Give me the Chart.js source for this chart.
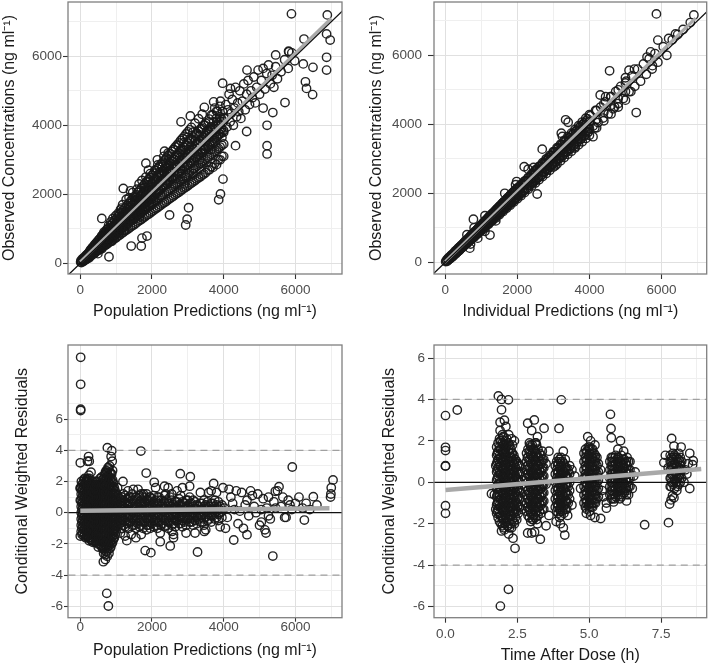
<!DOCTYPE html>
<html>
<head>
<meta charset="utf-8">
<script src="https://cdn.jsdelivr.net/npm/chart.js@4/dist/chart.umd.min.js"></script>
<style>
  body { margin: 0; background: #fff; width: 709px; height: 666px; position: relative; overflow: hidden; }
  canvas { position: absolute; }
</style>
</head>
<body>
<canvas id="popPlot" width="355" height="320" style="left:0;top:0"></canvas>
<canvas id="indPlot" width="354" height="320" style="left:355px;top:0"></canvas>
<canvas id="cwresPredPlot" width="355" height="346" style="left:0;top:320px"></canvas>
<canvas id="cwresTimePlot" width="354" height="346" style="left:355px;top:320px"></canvas>
<script>
// tick labels
const concTicks = [0, 2000, 4000, 6000];
const cwresTicks = [-6, -4, -2, 0, 2, 4, 6];
const timeTicks = [0, 2.5, 5, 7.5];

// population predictions vs observed (ng/ml): scattered points
const popScatter = [
  [10,40],[20,80],[30,20],[50,60],[60,130],[80,50],[100,160],[120,90],[150,200],[170,120],[200,260],[220,170],[240,310],[240,150],
  [260,220],[280,380],[300,300],[320,250],[340,450],[360,330],[380,280],[400,520],[420,400],[440,350],[460,600],[480,430],[500,380],[490,280],
  [520,560],[540,700],[560,480],[580,620],[600,800],[620,540],[640,680],[660,900],[680,600],[700,760],[720,560],[740,980],[750,700],[600,420],
  [770,850],[790,1100],[810,720],[830,920],[850,1200],[870,800],[890,1000],[910,1300],[930,760],[950,1080],[970,900],[990,1380],[1000,1150],[880,640],
  [1020,980],[1040,1250],[1060,1450],[1080,880],[1100,1180],[1120,1550],[1140,1020],[1160,1330],[1180,1700],[1200,1100],[1220,1400],[1240,1250],[1230,960],[1150,1600],
  [1260,1500],[1280,1850],[1300,1150],[1320,1380],[1340,1620],[1360,1900],[1380,1250],[1400,1480],[1420,1750],[1440,1350],[1460,2050],[1480,1600],[1500,1300],[1400,2100],
  [1520,1700],[1540,1900],[1560,1450],[1580,2150],[1600,1600],[1620,1800],[1640,2300],[1660,1500],[1680,1950],[1700,1750],[1720,2400],[1740,1600],[1750,2050],[1650,1350],
  [1770,1850],[1790,2200],[1810,1650],[1830,2500],[1850,2000],[1870,1800],[1890,2350],[1910,2150],[1930,1750],[1950,2600],[1970,2050],[1990,1850],[2000,2300],[1900,2700],
  [2020,2150],[2040,2450],[2060,1900],[2080,2700],[2100,2250],[2120,2050],[2140,2550],[2160,2850],[2180,2300],[2200,2100],[2220,2650],[2240,2400],[2250,1950],[2150,3000],
  [2270,2550],[2290,2800],[2310,2250],[2330,3100],[2350,2600],[2370,2400],[2390,2900],[2410,2650],[2430,2300],[2450,3200],[2470,2750],[2490,2500],[2480,3000],[2350,3250],
  [2520,2700],[2540,3050],[2560,2500],[2580,2850],[2600,3300],[2620,2650],[2640,3000],[2660,2450],[2680,2800],[2700,3150],[2720,2600],[2740,3400],[2750,2900],[2600,2300],
  [2770,3050],[2790,2750],[2810,3300],[2830,2600],[2850,3150],[2870,2900],[2890,3500],[2910,2800],[2930,3200],[2950,2500],[2970,3050],[2990,3650],[3000,2850],[2900,2300],
  [3020,3300],[3040,3050],[3060,3600],[3080,2900],[3100,3400],[3120,3150],[3140,3800],[3160,2750],[3180,3300],[3200,3550],[3220,3050],[3240,3750],[3250,3250],[3150,2600],
  [3270,3450],[3290,3150],[3310,3700],[3330,3000],[3350,3550],[3370,3300],[3390,3900],[3410,3200],[3430,3650],[3450,3400],[3470,4000],[3490,3300],[3500,3700],[3400,2900],
  [3520,3550],[3540,3850],[3560,3400],[3580,4100],[3600,3650],[3620,3450],[3640,3950],[3660,4300],[3680,3700],[3700,3500],[3720,4100],[3740,3800],[3750,4500],[3650,3300],
  [3770,3900],[3790,4200],[3810,3650],[3830,4400],[3850,4000],[3870,3750],[3890,4250],[3910,4700],[3930,3900],[3950,3650],[3970,4400],[3990,4100],[4000,3800],[3900,4550],
  [4030,4200],[4060,4600],[4090,3950],[4120,4450],[4150,4900],[4180,4100],[4210,4350],[4240,4750],[4270,4000],[4300,4500],[4330,5100],[4360,4250],[4390,4650],[4420,4400],[4450,5000],[4480,4200],
  [4520,4700],[4560,5200],[4600,4450],[4640,4900],[4680,5300],[4720,4600],[4760,5000],[4800,4800],[4840,5400],[4880,4650],[4920,5100],[4960,5600],[5000,4900],
  [5050,5300],[5100,5650],[5150,5050],[5200,5500],[5250,5750],[5300,5200],[5350,5450],[5400,5100],[5450,5700],[5500,5350],[5600,5550],[5700,5900],[5800,5650],[5900,6100],
  [5890,7230],[6890,7200],[6870,6650],[6970,6470],[6870,5970],[6870,5600],[6240,6500],[5810,6150],[5980,5870],[6220,5780],[6490,5680],[6280,5260],[6310,5070],[6480,4890],
  [5710,4660],[5370,4370],[5210,4000],[5100,4500],[5210,3410],[5210,3170],[4330,3410],[4640,3820],[3980,2440],[3910,2010],[3860,1840],[3020,1610],[2980,1280],[2940,1110],
  [2490,1400],[1860,790],[1720,730],[1700,500],[1420,500],[800,190],[2810,4100],[3070,4270],[1830,2900],[1200,2170],[600,1300],[3970,5220],[4650,5600],[4190,5070],
  [3720,4680],[3460,4520],[5450,6040],[5820,6130]
];

// population predictions: observed values stacked per prediction column (dense band)
const popColumns = [
  [100,[70,95,110,130,150]],[200,[150,180,205,230,260]],[300,[220,260,300,330,370,410]],[400,[300,350,390,430,480,540]],
  [500,[380,440,490,540,600,660]],[600,[450,520,580,640,710,780]],[700,[520,610,680,750,820,900]],[800,[600,690,770,850,940,1030]],
  [900,[680,780,870,960,1060,1160]],[1000,[740,860,960,1060,1170,1290]],[1100,[820,950,1060,1160,1280,1420]],[1200,[900,1040,1150,1270,1400,1540]],
  [1300,[970,1120,1250,1370,1510,1670]],[1400,[1050,1210,1340,1480,1630,1800]],[1500,[1120,1290,1440,1580,1740,1920]],[1600,[1200,1380,1540,1690,1860,2050]],
  [1700,[1270,1470,1640,1790,1970,2180]],[1800,[1350,1550,1730,1900,2090,2300]],[1900,[1420,1640,1830,2000,2210,2430]],[2000,[1500,1720,1920,2110,2320,2550]],
  [2100,[1580,1810,2020,2220,2440,2680]],[2200,[1650,1900,2110,2320,2550,2800]],[2300,[1730,1980,2210,2430,2670,2930]],[2400,[1800,2070,2310,2530,2780,3050]],
  [2500,[1880,2160,2400,2640,2900,3180]],[2600,[1950,2240,2500,2750,3020,3300]],[2700,[2030,2330,2600,2850,3130,3430]],[2800,[2100,2420,2690,2960,3250,3560]],
  [2900,[2180,2500,2790,3060,3360,3680]],[3000,[2250,2590,2880,3170,3480,3810]],[3100,[2330,2680,2980,3270,3600,3940]],[3200,[2400,2760,3080,3380,3710,4060]],
  [3300,[2480,2850,3170,3490,3830,4190]],[3400,[2560,2940,3270,3590,3950,4320]],[3500,[2630,3020,3370,3700,4060]],[3600,[2710,3110,3460,3800,4180]],
  [3700,[2780,3200,3560,3910,4300]],[3800,[2860,3280,3660,4010,4410]],[3900,[3000,3370,3750,4120]],[4000,[3100,3460,3850,4220]],
  [150,[110,130,160,190,220]],[250,[190,220,250,290,330]],[350,[260,300,340,380,420,470]],[450,[340,390,440,490,540,600]],
  [550,[410,470,530,590,650,720]],[650,[490,560,630,700,770,850]],[750,[560,650,720,800,880,970]],[850,[640,730,820,900,1000,1100]],
  [950,[710,820,910,1010,1110,1230]],[1050,[790,900,1010,1110,1220,1350]],[1150,[860,990,1100,1220,1340,1480]],[1250,[940,1080,1200,1320,1460,1610]],
  [1350,[1010,1170,1300,1430,1570,1730]],[1450,[1090,1250,1390,1530,1690,1860]],[1550,[1160,1340,1490,1640,1800,1980]],[1650,[1240,1430,1590,1740,1920,2110]],
  [1750,[1310,1510,1680,1850,2030,2240]],[1850,[1390,1600,1780,1950,2150,2370]],[1950,[1460,1680,1870,2060,2270,2490]],[2050,[1540,1770,1970,2170,2380,2610]],
  [2150,[1610,1850,2060,2270,2500,2740]],[2250,[1690,1940,2160,2380,2610,2870]],[2350,[1760,2030,2260,2480,2730,2990]],[2450,[1840,2110,2350,2590,2840,3120]],
  [2550,[1910,2200,2450,2690,2960,3240]],[2650,[1990,2290,2550,2800,3080,3370]],[2750,[2060,2370,2640,2900,3190,3490]],[2850,[2140,2460,2740,3010,3310,3620]],
  [2950,[2210,2550,2830,3110,3420,3750]],[3050,[2290,2630,2930,3220,3540,3870]],[3150,[2360,2720,3030,3330,3660]],[3250,[2440,2810,3120,3430,3770]],
  [3350,[2510,2890,3220,3540,3890]],[3450,[2590,2980,3320,3650,4010]],[3550,[2700,3070,3420,3750]],[3650,[2800,3160,3510,3860]],
  [3750,[2900,3240,3610,3960]],[3850,[3000,3330,3710,4070]],[3950,[3100,3420,3800,4170]]
];

// individual predictions vs observed (ng/ml): scattered points
const indScatter = [
  [10,20],[30,60],[50,30],[70,110],[90,70],[110,150],[130,100],[150,190],[170,140],[190,230],[210,170],[230,260],[250,220],[270,320],[290,250],[310,350],[330,290],[350,400],[370,330],[390,440],
  [410,370],[430,480],[450,410],[470,520],[490,440],[510,560],[530,490],[550,610],[570,520],[590,640],[610,560],[630,690],[650,600],[670,730],[690,640],[710,780],[730,680],[750,820],[770,720],[790,860],
  [810,750],[830,900],[850,790],[870,940],[890,830],[910,980],[930,870],[950,1030],[970,900],[990,1080],
  [1010,950],[1030,1120],[1050,1000],[1070,1170],[1090,1030],[1110,1210],[1130,1060],[1150,1250],[1170,1100],[1190,1300],[1210,1140],[1230,1340],[1250,1180],[1270,1380],[1290,1210],[1310,1420],
  [1330,1260],[1350,1460],[1370,1300],[1390,1500],[1410,1330],[1430,1550],[1450,1380],[1470,1590],[1490,1420],[1510,1630],[1530,1450],[1550,1680],[1570,1490],[1590,1720],[1610,1530],[1630,1760],
  [1650,1570],[1670,1800],[1690,1600],[1710,1850],[1730,1640],[1750,1890],[1770,1680],[1790,1930],[1810,1720],[1830,1980],[1850,1750],[1870,2020],[1890,1790],[1910,2060],[1930,1840],[1950,2100],
  [1970,1870],[1990,2150],
  [2020,1930],[2060,2200],[2100,1990],[2140,2290],[2180,2080],[2220,2360],[2260,2150],[2300,2440],[2340,2230],[2380,2520],[2420,2300],[2460,2610],[2500,2380],[2540,2690],[2580,2460],[2620,2780],
  [2660,2530],[2700,2850],[2740,2610],[2780,2940],[2820,2680],[2860,3030],[2900,2760],[2940,3100],[2980,2840],
  [3020,3200],[3070,2930],[3120,3300],[3170,3020],[3220,3400],[3270,3110],[3320,3500],[3370,3210],[3420,3600],[3470,3300],[3520,3700],[3570,3400],[3620,3800],[3670,3500],[3720,3900],[3770,3580],
  [3820,4000],[3870,3680],[3920,4100],[3970,3780],
  [4030,4250],[4100,3950],[4170,4400],[4240,4050],[4310,4500],[4380,4180],[4450,4650],[4520,4300],[4590,4800],[4660,4450],[4730,4950],[4800,4600],[4870,5100],[4940,4750],
  [5020,5250],[5100,4950],[5180,5400],[5260,5100],[5340,5600],[5420,5250],[5500,5750],[5580,5450],[5660,5900],[5740,5600],[5820,6050],[5900,5800],
  [6050,6250],[6150,6000],[6300,6450],[6450,6600],[6600,6750],[6800,6950],
  [1650,2000],[1950,2250],[2450,2750],[3250,3650],[4300,4850],[4450,4800],[5000,5350],[5250,5600],[5600,5950],[5700,6100],[1100,1350],[800,1000],[600,800],
  [700,530],[1100,900],[1400,1200],[3050,2800],[3600,3350],[4150,3900],[4700,4500],[5150,4950],[5750,5700],[900,700],
  [5860,7200],[6900,7170],[5900,6440],[6200,6490],[6390,6620],[4560,5550],[5300,4340],[5100,5570],[3340,4130],[3410,4060],[3220,3740],[4100,3640],[2690,3280],
  [2190,2770],[2300,2700],[1980,2340],[2550,1980],[780,1250],[1240,790],[680,410]
];

// individual predictions: observed values stacked per prediction column (dense band)
const indColumns = [
  [100,[90,100,110]],[200,[185,195,210,220]],[300,[275,290,310,325]],[400,[365,390,410,435]],[500,[460,485,515,540]],
  [600,[550,580,615,645]],[700,[645,680,715,750]],[800,[735,775,820,860]],[900,[830,870,920,965]],[1000,[920,965,1020,1075]],
  [1100,[1010,1065,1120,1180]],[1200,[1100,1160,1225,1285]],[1300,[1195,1260,1325,1395]],[1400,[1285,1355,1430,1500]],[1500,[1380,1455,1530,1610]],
  [1600,[1470,1550,1635,1715]],[1700,[1565,1650,1735,1820]],[1800,[1655,1745,1840,1930]],[1900,[1750,1845,1940,2035]],[2000,[1840,1940,2040,2140]],
  [2100,[1930,2035,2145,2250]],[2200,[2025,2135,2245,2355]],[2300,[2115,2230,2345,2460]],[2400,[2210,2330,2450,2570]],[2500,[2300,2425,2550,2675]],
  [2600,[2390,2520,2650,2780]],[2700,[2485,2620,2755,2890]],[2800,[2575,2715,2855,3000]],[2900,[2670,2815,2960,3100]],[3000,[2760,2910,3060,3210]],
  [3100,[2850,3005,3160,3320]],[3200,[2945,3105,3265,3425]],[3300,[3035,3200,3365,3530]],[3400,[3130,3300,3470,3640]],[3500,[3220,3395,3570,3745]],
  [3600,[3310,3490,3670,3850]],[3700,[3405,3590,3775,3960]],[3800,[3495,3685,3875,4065]],[3900,[3590,3785,3980,4175]],[4000,[3680,3880,4080,4280]],
  [4200,[3900,4150,4400]],[4400,[4100,4350,4600]],[4600,[4300,4550,4800]],[4800,[4500,4750,5000]],[5000,[4700,4950,5200]],
  [150,[140,150,165]],[250,[235,255,265]],[350,[330,345,370]],[450,[420,455,475]],[550,[520,545,585]],[650,[610,655,685]],
  [750,[715,750,795]],[850,[800,855,895]],[950,[905,945,1005]],[1050,[990,1055,1100]],[1150,[1095,1145,1215]],[1250,[1180,1255,1310]],
  [1350,[1285,1345,1425]],[1450,[1370,1455,1520]],[1550,[1475,1545,1635]],[1650,[1560,1655,1730]],[1750,[1665,1745,1845]],[1850,[1750,1855,1940]],
  [1950,[1855,1945,2055]],[2050,[1940,2055,2150]],[2150,[2045,2145,2265]],[2250,[2130,2255,2360]],[2350,[2235,2345,2475]],[2450,[2320,2455,2570]],
  [2550,[2425,2545,2685]],[2650,[2510,2655,2780]],[2750,[2615,2745,2895]],[2850,[2700,2855,2990]],[2950,[2805,2945,3105]],[3050,[2890,3055,3200]],
  [3150,[2995,3145,3315]],[3250,[3080,3255,3410]],[3350,[3185,3345,3525]],[3450,[3270,3455,3620]],[3550,[3375,3545,3735]],[3650,[3460,3655,3830]],
  [3750,[3565,3745,3945]],[3850,[3650,3855,4040]],[3950,[3755,3945,4155]]
];

// conditional weighted residuals vs population predictions: scattered points
const cwresPred = [
  [0,3.2],[0,1.6],[0,1.55],[0,0.8],[0,-1.5],[10,9.96],[10,8.23],[10,6.63],[10,6.55],
  [30,2.0],[120,2.2],[200,2.1],[280,1.9],[350,2.0],[440,1.8],[240,2.4],[300,2.6],[200,3.3],[230,3.6],[250,3.3],
  [700,2.6],[780,2.8],[850,2.5],[900,2.7],[755,4.17],[878,3.97],[860,3.6],[890,3.3],[820,3.0],[643,-3.14],[738,-5.17],[783,-5.98],[700,-3.0],
  [1040,1.6],[1120,-1.3],[1190,2.0],[1250,-1.5],[1330,1.4],[1420,-1.4],[1480,1.5],[1610,1.5],[1700,-1.4],[1760,1.2],[1850,-1.1],[1940,1.0],
  [1690,3.95],[1838,2.54],[2062,1.95],[1298,-1.79],[1810,-2.43],[1968,-2.56],[1550,-1.6],
  [2100,1.6],[2230,-1.3],[2350,1.7],[2450,1.6],[2600,-1.4],[2700,1.4],[2850,1.6],[2950,-1.3],[3050,1.7],[3200,-1.3],[3350,1.3],[3500,-1.1],[3650,1.4],
  [3800,1.3],[3900,-0.9],[2380,1.2],[2560,-1.2],[2800,1.1],[3460,-1.2],[3580,1.3],
  [2789,2.5],[3069,2.31],[2509,-2.13],[2230,-1.86],[3270,-2.52],[3720,1.88],[3980,1.6],[2600,-1.6],
  [4100,-0.3],[4200,1.0],[4300,0.2],[4400,-0.7],[4500,1.3],[4600,0.5],[4700,-0.2],[4800,1.1],[4900,0.0],[5000,-0.8],[5100,0.9],[5200,0.3],[5300,-0.4],
  [5400,0.7],[5500,1.4],[5600,0.4],[5700,-0.3],[5800,0.8],[5900,0.2],[6000,0.6],[6100,1.0],[6200,0.3],[6300,0.6],[6400,0.2],[6500,1.03],[6600,0.5],
  [4150,1.5],[4350,1.4],[4550,-1.0],[4750,1.4],[4950,1.2],[5150,-1.1],[5250,1.0],[4050,-1.0],[4280,-1.75],[4650,-1.41],[5370,-2.78],[5543,1.67],
  [5440,1.37],[5913,2.93],[5740,-0.3],[6250,-0.47],[5050,-0.6],[5180,-1.3],[7050,2.1],[7000,1.6],[6990,1.2],[6980,1.0],
  [4020,0.3],[4250,0.6],[4450,0.1],[4650,0.8],[4850,0.4],[5050,0.2],[5250,-0.2],[5450,0.3],[5650,1.0],[5850,0.5]
];

// conditional weighted residuals stacked per prediction column (dense cloud)
const cwresPredColumns = [
  [25,[-1.2,-0.8,-0.4,0,0.4,0.8,1.2,1.6]],[75,[-1.3,-0.9,-0.5,-0.1,0.3,0.7,1.1,1.5,1.9]],[125,[-1.4,-1.0,-0.6,-0.2,0.2,0.6,1.0,1.4,1.8]],
  [175,[-1.5,-1.1,-0.7,-0.3,0.1,0.5,0.9,1.3,1.7,2.1]],[225,[-1.6,-1.2,-0.8,-0.4,0.0,0.4,0.8,1.2,1.6,2.0]],[275,[-1.7,-1.3,-0.9,-0.5,-0.1,0.3,0.7,1.1,1.5,1.9]],
  [325,[-1.8,-1.4,-1.0,-0.6,-0.2,0.2,0.6,1.0,1.4,1.8]],[375,[-1.8,-1.4,-1.0,-0.6,-0.2,0.2,0.6,1.0,1.4,1.8]],[425,[-1.9,-1.5,-1.1,-0.7,-0.3,0.1,0.5,0.9,1.3,1.7]],
  [475,[-2.0,-1.6,-1.2,-0.8,-0.4,0.0,0.4,0.8,1.2,1.6,2.0]],[525,[-2.0,-1.6,-1.2,-0.8,-0.4,0.0,0.4,0.8,1.2,1.6]],[575,[-2.1,-1.7,-1.3,-0.9,-0.5,-0.1,0.3,0.7,1.1,1.5,1.9]],
  [625,[-2.3,-1.9,-1.5,-1.1,-0.7,-0.3,0.1,0.5,0.9,1.3,1.7,2.1]],[675,[-2.4,-2.0,-1.6,-1.2,-0.8,-0.4,0.0,0.4,0.8,1.2,1.6,2.0,2.4]],
  [725,[-2.5,-2.1,-1.7,-1.3,-0.9,-0.5,-0.1,0.3,0.7,1.1,1.5,1.9,2.3,2.7]],[775,[-2.4,-2.0,-1.6,-1.2,-0.8,-0.4,0.0,0.4,0.8,1.2,1.6,2.0,2.4,2.9]],
  [825,[-2.3,-1.9,-1.5,-1.1,-0.7,-0.3,0.1,0.5,0.9,1.3,1.7,2.1,2.6]],[875,[-2.0,-1.6,-1.2,-0.8,-0.4,0.0,0.4,0.8,1.2,1.6,2.0,2.5]],
  [925,[-1.7,-1.3,-0.9,-0.5,-0.1,0.3,0.7,1.1,1.5,1.9]],[975,[-1.4,-1.0,-0.6,-0.2,0.2,0.6,1.0,1.4]],
  [50,[-1.4,-1.0,-0.6,-0.2,0.2,0.6,1.0,1.4,1.8]],[100,[-1.5,-1.1,-0.7,-0.3,0.1,0.5,0.9,1.3,1.7,2.1]],[150,[-1.6,-1.2,-0.8,-0.4,0.0,0.4,0.8,1.2,1.6,2.0]],
  [200,[-1.5,-1.1,-0.7,-0.3,0.1,0.5,0.9,1.3,1.7,2.2]],[250,[-1.8,-1.4,-1.0,-0.6,-0.2,0.2,0.6,1.0,1.4,1.8,2.2]],[300,[-1.6,-1.2,-0.8,-0.4,0.0,0.4,0.8,1.2,1.6,2.0]],
  [350,[-1.9,-1.5,-1.1,-0.7,-0.3,0.1,0.5,0.9,1.3,1.7]],[400,[-1.6,-1.2,-0.8,-0.4,0.0,0.4,0.8,1.2,1.6,2.0]],[450,[-1.8,-1.4,-1.0,-0.6,-0.2,0.2,0.6,1.0,1.4,1.8]],
  [500,[-2.2,-1.8,-1.4,-1.0,-0.6,-0.2,0.2,0.6,1.0,1.4,1.8]],[550,[-1.8,-1.4,-1.0,-0.6,-0.2,0.2,0.6,1.0,1.4,1.8,2.2]],
  [600,[-2.2,-1.8,-1.4,-1.0,-0.6,-0.2,0.2,0.6,1.0,1.4,1.8,2.3]],[650,[-2.6,-2.2,-1.8,-1.4,-1.0,-0.6,-0.2,0.2,0.6,1.0,1.4,1.8,2.2]],
  [700,[-2.7,-2.3,-1.9,-1.5,-1.1,-0.7,-0.3,0.1,0.5,0.9,1.3,1.7,2.1,2.5]],[750,[-2.8,-2.2,-1.8,-1.4,-1.0,-0.6,-0.2,0.2,0.6,1.0,1.4,1.8,2.2,2.6]],
  [800,[-2.6,-2.1,-1.7,-1.3,-0.9,-0.5,-0.1,0.3,0.7,1.1,1.5,1.9,2.3]],[850,[-2.2,-1.8,-1.4,-1.0,-0.6,-0.2,0.2,0.6,1.0,1.4,1.8,2.2]],
  [900,[-1.9,-1.5,-1.1,-0.7,-0.3,0.1,0.5,0.9,1.3,1.7,2.1]],[950,[-1.6,-1.2,-0.8,-0.4,0.0,0.4,0.8,1.2,1.6]],[1000,[-1.2,-0.8,-0.4,0.0,0.4,0.8,1.2]],
  [1050,[-0.9,-0.5,-0.1,0.3,0.7,1.1]],[1150,[-1.0,-0.6,-0.2,0.2,0.6,1.0]],[1250,[-0.9,-0.5,-0.1,0.3,0.7,1.1]],[1350,[-1.0,-0.6,-0.2,0.2,0.6,1.0]],
  [1450,[-0.8,-0.4,0.0,0.4,0.8,1.2]],[1550,[-1.0,-0.6,-0.2,0.2,0.6,1.0]],[1650,[-0.9,-0.5,-0.1,0.3,0.7,1.1]],[1750,[-1.0,-0.6,-0.2,0.2,0.6,1.0]],
  [1850,[-0.8,-0.4,0.0,0.4,0.8,1.2]],[1950,[-1.0,-0.6,-0.2,0.2,0.6,1.0]],[2050,[-0.9,-0.5,-0.1,0.3,0.7,1.1]],[2150,[-1.0,-0.6,-0.2,0.2,0.6,1.0]],
  [2250,[-0.8,-0.4,0.0,0.4,0.8]],[2350,[-0.9,-0.5,-0.1,0.3,0.7,1.1]],[2450,[-1.0,-0.6,-0.2,0.2,0.6]],[2550,[-0.8,-0.4,0.0,0.4,0.8,1.2]],
  [2650,[-0.9,-0.5,-0.1,0.3,0.7]],[2750,[-0.7,-0.3,0.1,0.5,0.9]],[2850,[-0.9,-0.5,-0.1,0.3,0.7]],[2950,[-0.8,-0.4,0.0,0.4,0.8]],
  [3050,[-0.6,-0.2,0.2,0.6,1.0]],[3150,[-0.8,-0.4,0.0,0.4,0.8]],[3250,[-0.7,-0.3,0.1,0.5]],[3350,[-0.6,-0.2,0.2,0.6]],
  [3450,[-0.8,-0.4,0.0,0.4,0.8]],[3550,[-0.5,-0.1,0.3,0.7]],[3650,[-0.6,-0.2,0.2,0.6]],[3750,[-0.4,0.0,0.4,0.8]],[3850,[-0.5,-0.1,0.3,0.7]],[3950,[-0.3,0.1,0.5]],
  [1100,[-0.7,-0.3,0.1,0.5,0.9]],[1200,[-0.8,-0.4,0.0,0.4,0.8,1.2]],[1300,[-0.7,-0.3,0.1,0.5,0.9]],[1400,[-0.6,-0.2,0.2,0.6,1.0]],
  [1500,[-0.8,-0.4,0.0,0.4,0.8]],[1600,[-0.7,-0.3,0.1,0.5,0.9]],[1700,[-0.8,-0.4,0.0,0.4,0.8,1.2]],[1800,[-0.6,-0.2,0.2,0.6,1.0]],
  [1900,[-0.8,-0.4,0.0,0.4,0.8]],[2000,[-0.7,-0.3,0.1,0.5,0.9]],[2100,[-0.8,-0.4,0.0,0.4,0.8]],[2200,[-0.6,-0.2,0.2,0.6,1.0]],
  [2300,[-0.7,-0.3,0.1,0.5]],[2400,[-0.8,-0.4,0.0,0.4,0.8]],[2500,[-0.6,-0.2,0.2,0.6,1.0]],[2600,[-0.7,-0.3,0.1,0.5]],
  [2700,[-0.5,-0.1,0.3,0.7]],[2800,[-0.7,-0.3,0.1,0.5]],[2900,[-0.6,-0.2,0.2,0.6]],[3000,[-0.4,0.0,0.4,0.8]],
  [3100,[-0.6,-0.2,0.2,0.6]],[3200,[-0.5,-0.1,0.3,0.7]],[3300,[-0.4,0.0,0.4]],[3400,[-0.6,-0.2,0.2,0.6]],
  [3500,[-0.3,0.1,0.5]],[3600,[-0.4,0.0,0.4]],[3700,[-0.2,0.2,0.6]],[3800,[-0.3,0.1,0.5]],[3900,[0.0,0.4]]
];

// conditional weighted residuals vs time after dose (h): scattered points
const cwresTime = [
  [0,3.22],[0,1.69],[0,1.53],[0,0.8],[0,0.78],[0,-1.13],[0,-1.5],[0.41,3.49],
  [1.75,-1.3],[1.75,0.8],[1.7,-0.6],[2.6,-0.5],[2.6,0.5],[2.65,-1.3],[1.9,2.5],[2.0,2.2],[2.2,2.3],[2.4,2.0],
  [1.84,4.17],[1.95,4.0],[2.19,3.98],[1.95,3.5],[2.05,3.0],[2.1,2.7],[1.9,2.9],[2.3,2.1],[1.95,-2.35],[2.05,-2.3],[2.2,-2.5],[2.42,-3.19],
  [2.35,-2.7],[2.19,-5.17],[1.91,-5.98],[1.6,-0.55],[2.15,-2.1],[2.4,-2.0],[2.3,-2.2],
  [2.86,2.85],[3.09,3.01],[3.0,2.5],[3.2,2.2],[3.43,2.61],[3.6,1.5],[2.86,-2.45],[3.0,-2.45],[3.3,-2.75],[3.5,-2.1],[3.1,-2.4],[3.6,-1.6],
  [3.15,1.9],[2.95,1.8],[3.05,-1.8],[3.2,-2.0],[3.5,0.9],[3.5,-0.1],
  [3.95,2.6],[4.1,1.5],[4.03,3.98],[3.85,-1.9],[4.0,-2.0],[4.15,-2.55],[4.1,-2.2],[4.5,0.3],[4.4,-1.1],[4.4,0.6],[4.25,-1.6],
  [4.95,2.2],[5.05,2.0],[5.2,1.8],[4.9,-1.5],[5.05,-1.6],[5.2,-1.7],[5.4,-1.75],[5.6,-1.0],[5.5,-0.7],[4.7,-0.3],[5.45,-0.4],[5.4,0.6],
  [5.74,3.28],[5.76,2.6],[5.77,2.15],[6.09,2.01],[6.0,1.6],[6.2,1.5],[5.6,-1.25],[5.85,-0.95],[6.3,-0.9],[6.6,0.5],[6.5,-0.3],[6.93,-2.05],[6.55,0.3],
  [7.87,2.12],[7.95,1.75],[8.2,1.7],[7.65,1.3],[7.6,0.95],[8.5,1.4],[8.45,0.9],[8.6,0.85],[8.62,1.04],[8.5,-0.3],[7.9,-0.65],[7.85,-0.85],
  [7.8,-1.05],[7.95,-0.75],[7.76,-1.95],[8.4,0.4],[8.3,0.0],[8.35,0.6],[7.75,0.7]
];

// conditional weighted residuals stacked per time column (dense clusters)
const cwresTimeColumns = [
  [1.78,[-1.5,-1.1,-0.7,-0.3,0.1,0.5,0.9,1.3,1.7]],[1.88,[-1.9,-1.5,-1.1,-0.7,-0.3,0.1,0.5,0.9,1.3,1.7,2.1]],
  [1.98,[-2.1,-1.7,-1.3,-0.9,-0.5,-0.1,0.3,0.7,1.1,1.5,1.9,2.3]],[2.08,[-2.0,-1.6,-1.2,-0.8,-0.4,0.0,0.4,0.8,1.2,1.6,2.0]],
  [2.18,[-2.1,-1.7,-1.3,-0.9,-0.5,-0.1,0.3,0.7,1.1,1.5,1.9]],[2.28,[-2.0,-1.6,-1.2,-0.8,-0.4,0.0,0.4,0.8,1.2,1.6]],
  [2.38,[-1.9,-1.5,-1.1,-0.7,-0.3,0.1,0.5,0.9,1.3]],[2.48,[-1.8,-1.4,-1.0,-0.6,-0.2,0.2,0.6,1.0]],[2.58,[-1.2,-0.8,-0.4,0.0,0.4,0.8]],
  [2.82,[-1.4,-1.0,-0.6,-0.2,0.2,0.6,1.0,1.4]],[2.92,[-1.7,-1.3,-0.9,-0.5,-0.1,0.3,0.7,1.1,1.5,1.9]],
  [3.02,[-1.8,-1.4,-1.0,-0.6,-0.2,0.2,0.6,1.0,1.4,1.8]],[3.12,[-1.7,-1.3,-0.9,-0.5,-0.1,0.3,0.7,1.1,1.5,1.9]],
  [3.22,[-1.6,-1.2,-0.8,-0.4,0.0,0.4,0.8,1.2,1.6]],[3.32,[-1.5,-1.1,-0.7,-0.3,0.1,0.5,0.9,1.3]],[3.42,[-1.3,-0.9,-0.5,-0.1,0.3,0.7,1.1]],
  [3.82,[-1.2,-0.8,-0.4,0.0,0.4,0.8]],[3.92,[-1.5,-1.1,-0.7,-0.3,0.1,0.5,0.9,1.2]],[4.02,[-1.6,-1.2,-0.8,-0.4,0.0,0.4,0.8,1.2]],
  [4.12,[-1.5,-1.1,-0.7,-0.3,0.1,0.5,0.9]],[4.22,[-1.3,-0.9,-0.5,-0.1,0.3,0.7]],[4.32,[-0.8,-0.4,0.0,0.4,0.8]],
  [4.82,[-1.0,-0.6,-0.2,0.2,0.6,1.0,1.4]],[4.92,[-1.3,-0.9,-0.5,-0.1,0.3,0.7,1.1,1.5]],[5.02,[-1.4,-1.0,-0.6,-0.2,0.2,0.6,1.0,1.4,1.7]],
  [5.12,[-1.2,-0.8,-0.4,0.0,0.4,0.8,1.2,1.6]],[5.22,[-1.0,-0.6,-0.2,0.2,0.6,1.0,1.3]],[5.32,[-0.7,-0.3,0.1,0.5,0.9]],
  [5.72,[-0.6,-0.2,0.2,0.6,1.0]],[5.82,[-0.8,-0.4,0.0,0.4,0.8,1.2]],[5.92,[-0.7,-0.3,0.1,0.5,0.9,1.3]],[6.02,[-0.6,-0.2,0.2,0.6,1.0,1.2]],
  [6.12,[-0.7,-0.3,0.1,0.5,0.9,1.3]],[6.22,[-0.5,-0.1,0.3,0.7,1.1]],[6.32,[-0.4,0.0,0.4,0.8,1.2]],[6.42,[-0.2,0.2,0.6,1.0]],
  [7.82,[-0.2,0.2,0.6,1.0,1.3]],[7.92,[-0.1,0.3,0.7,1.1,1.4]],[8.02,[0.0,0.4,0.8,1.2]],[8.12,[-0.1,0.3,0.7,1.1,1.4]],[8.22,[0.2,0.6,1.0]],
  [1.83,[-1.7,-1.3,-0.9,-0.5,-0.1,0.3,0.7,1.1,1.5,1.9]],[1.93,[-2.0,-1.6,-1.2,-0.8,-0.4,0.0,0.4,0.8,1.2,1.6,2.0]],
  [2.03,[-2.2,-1.8,-1.4,-1.0,-0.6,-0.2,0.2,0.6,1.0,1.4,1.8,2.2]],[2.13,[-1.9,-1.5,-1.1,-0.7,-0.3,0.1,0.5,0.9,1.3,1.7,2.1]],
  [2.23,[-2.2,-1.8,-1.4,-1.0,-0.6,-0.2,0.2,0.6,1.0,1.4,1.8]],[2.33,[-1.8,-1.4,-1.0,-0.6,-0.2,0.2,0.6,1.0,1.4,1.8]],
  [2.43,[-1.7,-1.3,-0.9,-0.5,-0.1,0.3,0.7,1.1]],[2.53,[-1.5,-1.1,-0.7,-0.3,0.1,0.5,0.9]],
  [2.87,[-1.6,-1.2,-0.8,-0.4,0.0,0.4,0.8,1.2,1.6]],[2.97,[-1.9,-1.5,-1.1,-0.7,-0.3,0.1,0.5,0.9,1.3,1.7]],
  [3.07,[-1.6,-1.2,-0.8,-0.4,0.0,0.4,0.8,1.2,1.6]],[3.17,[-1.8,-1.4,-1.0,-0.6,-0.2,0.2,0.6,1.0,1.4,1.8]],
  [3.27,[-1.4,-1.0,-0.6,-0.2,0.2,0.6,1.0,1.4]],[3.37,[-1.3,-0.9,-0.5,-0.1,0.3,0.7,1.1,1.5]],
  [3.87,[-1.4,-1.0,-0.6,-0.2,0.2,0.6,1.0]],[3.97,[-1.7,-1.3,-0.9,-0.5,-0.1,0.3,0.7,1.1]],[4.07,[-1.4,-1.0,-0.6,-0.2,0.2,0.6,1.0]],
  [4.17,[-1.3,-0.9,-0.5,-0.1,0.3,0.7,1.1]],[4.27,[-1.0,-0.6,-0.2,0.2,0.6]],
  [4.87,[-1.2,-0.8,-0.4,0.0,0.4,0.8,1.2,1.6]],[4.97,[-1.1,-0.7,-0.3,0.1,0.5,0.9,1.3,1.7]],[5.07,[-1.2,-0.8,-0.4,0.0,0.4,0.8,1.2,1.6]],
  [5.17,[-1.0,-0.6,-0.2,0.2,0.6,1.0,1.4]],[5.27,[-0.8,-0.4,0.0,0.4,0.8,1.2]],
  [5.77,[-0.8,-0.4,0.0,0.4,0.8,1.2]],[5.87,[-0.6,-0.2,0.2,0.6,1.0]],[5.97,[-0.5,-0.1,0.3,0.7,1.1]],[6.07,[-0.8,-0.4,0.0,0.4,0.8]],
  [6.17,[-0.5,-0.1,0.3,0.7,1.1]],[6.27,[-0.3,0.1,0.5,0.9]],[6.37,[-0.6,-0.2,0.2,0.6,1.0]],
  [7.87,[0.0,0.4,0.8,1.2]],[7.97,[-0.3,0.1,0.5,0.9,1.3]],[8.07,[-0.2,0.2,0.6,1.0]],[8.17,[0.0,0.4,0.8,1.2]],
  [1.805,[-1.4,-1.0,-0.6,-0.2,0.2,0.6,1.0,1.4]],[1.905,[-1.6,-1.2,-0.8,-0.4,0.0,0.4,0.8,1.2,1.6,2.0]],
  [2.005,[-1.8,-1.4,-1.0,-0.6,-0.2,0.2,0.6,1.0,1.4,1.8]],[2.105,[-1.8,-1.4,-1.0,-0.6,-0.2,0.2,0.6,1.0,1.4,1.8]],
  [2.205,[-1.6,-1.2,-0.8,-0.4,0.0,0.4,0.8,1.2,1.6]],[2.305,[-1.6,-1.2,-0.8,-0.4,0.0,0.4,0.8,1.2,1.4]],
  [2.405,[-1.4,-1.0,-0.6,-0.2,0.2,0.6,1.0]],[2.505,[-1.2,-0.8,-0.4,0.0,0.4,0.8]],
  [2.85,[-1.2,-0.8,-0.4,0.0,0.4,0.8,1.2]],[2.95,[-1.4,-1.0,-0.6,-0.2,0.2,0.6,1.0,1.4]],[3.05,[-1.6,-1.2,-0.8,-0.4,0.0,0.4,0.8,1.2,1.6]],
  [3.15,[-1.4,-1.0,-0.6,-0.2,0.2,0.6,1.0,1.4]],[3.25,[-1.2,-0.8,-0.4,0.0,0.4,0.8,1.2]],[3.35,[-1.0,-0.6,-0.2,0.2,0.6,1.0]],
  [3.9,[-1.2,-0.8,-0.4,0.0,0.4,0.8]],[4.0,[-1.4,-1.0,-0.6,-0.2,0.2,0.6,1.0]],[4.1,[-1.2,-0.8,-0.4,0.0,0.4,0.8]],[4.2,[-1.0,-0.6,-0.2,0.2,0.6]],
  [4.9,[-1.0,-0.6,-0.2,0.2,0.6,1.0,1.4]],[5.0,[-1.2,-0.8,-0.4,0.0,0.4,0.8,1.2,1.6]],[5.1,[-1.0,-0.6,-0.2,0.2,0.6,1.0,1.4]],[5.2,[-0.8,-0.4,0.0,0.4,0.8,1.2]],
  [5.8,[-0.6,-0.2,0.2,0.6,1.0]],[5.9,[-0.8,-0.4,0.0,0.4,0.8,1.2]],[6.0,[-0.4,0.0,0.4,0.8,1.2]],[6.1,[-0.6,-0.2,0.2,0.6,1.0]],
  [6.2,[-0.4,0.0,0.4,0.8]],[6.3,[-0.6,-0.2,0.2,0.6,1.0]],
  [7.85,[-0.2,0.2,0.6,1.0]],[7.95,[0.0,0.4,0.8,1.2]],[8.05,[-0.4,0.0,0.4,0.8,1.2]],[8.15,[0.2,0.6,1.0]]
];

// reference and smooth lines
const identityLine = [[-1000,-1000],[8000,8000]];
const popSmooth = [[0,40],[7000,7100]];
const indSmooth = [[0,20],[6950,7080]];
const zeroLinePred = [[-1000,0],[8000,0]];
const upperLimitPred = [[-1000,4],[8000,4]];
const lowerLimitPred = [[-1000,-4],[8000,-4]];
const cwresPredSmooth = [[0,0.12],[6950,0.28]];
const zeroLineTime = [[-1,0],[10,0]];
const upperLimitTime = [[-1,4],[10,4]];
const lowerLimitTime = [[-1,-4],[10,-4]];
const cwresTimeSmooth = [[0,-0.37],[8.9,0.64]];

const fontFamily = "'Liberation Sans', Arial, Helvetica, sans-serif";

function fromColumns(cols) {
  const out = [];
  cols.forEach(([x, ys]) => ys.forEach((y) => out.push([x, y])));
  return out;
}

function toXY(pairs) {
  return pairs.map((p) => ({ x: p[0], y: p[1] }));
}

function near(list, v) {
  return list.some((t) => Math.abs(t - v) < 1e-6);
}

function pointSet(pairs) {
  return {
    data: toXY(pairs),
    showLine: false,
    pointRadius: 4.2,
    pointBorderWidth: 1.4,
    pointBorderColor: "rgba(24,24,24,0.95)",
    pointBackgroundColor: "rgba(0,0,0,0)",
  };
}

function lineSet(pairs, color, width, dash) {
  return {
    data: toXY(pairs),
    showLine: true,
    pointRadius: 0,
    borderColor: color,
    borderWidth: width,
    borderDash: dash || [],
    fill: false,
  };
}

// grey frame round the plot area
const panelFrame = {
  id: "panelFrame",
  afterDraw(chart) {
    const a = chart.chartArea;
    const c = chart.ctx;
    c.save();
    c.strokeStyle = "#7f7f7f";
    c.lineWidth = 1.3;
    c.strokeRect(a.left, a.top, a.right - a.left, a.bottom - a.top);
    c.restore();
  },
};

function axis(a, isX) {
  // grid positions: labelled majors plus the minor lines between (and one step beyond)
  const gridVals = [];
  const last = a.labels[a.labels.length - 1];
  for (let v = a.labels[0] - a.minor; v <= last + a.minor + 1e-9; v += a.minor) {
    const r = Math.round(v * 1000) / 1000;
    if (r >= a.min && r <= a.max) gridVals.push(r);
  }
  return {
    type: "linear",
    position: isX ? "bottom" : "left",
    min: a.min,
    max: a.max,
    border: { display: false },
    afterBuildTicks: (s) => {
      s.ticks = gridVals.map((v) => ({ value: v }));
    },
    grid: {
      color: (c) => (near(a.labels, c.tick.value) ? "#e0e0e0" : "#efefef"),
      lineWidth: 1,
      tickLength: a.tickLength,
      tickWidth: 1.1,
      tickColor: (c) => (near(a.labels, c.tick.value) ? "#333" : "rgba(0,0,0,0)"),
    },
    ticks: {
      autoSkip: false,
      maxRotation: 0,
      padding: a.tickPad,
      color: "#4d4d4d",
      font: { family: fontFamily, size: 13.5 },
      callback: (v) => (near(a.labels, v) ? a.fmt(v) : ""),
    },
    title: {
      display: true,
      text: a.title,
      color: "#1a1a1a",
      font: { family: fontFamily, size: 16 },
      padding: a.titlePad,
    },
    afterFit: (s) => {
      if (isX) s.height = a.size;
      else s.width = a.size;
      s.paddingTop = 0;
      s.paddingBottom = 0;
      s.paddingLeft = 0;
      s.paddingRight = 0;
    },
  };
}

function makePanel(id, p) {
  const ctx = document.getElementById(id).getContext("2d");
  return new Chart(ctx, {
    type: "scatter",
    data: { datasets: p.datasets },
    options: {
      responsive: false,
      animation: false,
      events: [],
      layout: { padding: p.padding, autoPadding: false },
      plugins: { legend: { display: false }, tooltip: { enabled: false } },
      scales: { x: axis(p.x, true), y: axis(p.y, false) },
    },
    plugins: [panelFrame],
  });
}

const plain = (v) => String(v);
const oneDecimal = (v) => v.toFixed(1);

makePanel("popPlot", {
  padding: { top: 2, right: 13, left: 0, bottom: 0 },
  datasets: [
    lineSet(identityLine, "#111", 1.3),
    lineSet(popSmooth, "#a9a9a9", 3.2),
    pointSet(popScatter.concat(fromColumns(popColumns))),
  ],
  x: { min: -343, max: 7300, minor: 1000, labels: concTicks, fmt: plain, size: 46, tickLength: 5, tickPad: 3,
       title: "Population Predictions (ng ml⁻¹)", titlePad: { top: 0, bottom: -1.5 } },
  y: { min: -310, max: 7574, minor: 1000, labels: concTicks, fmt: plain, size: 68, tickLength: 5, tickPad: 1,
       title: "Observed Concentrations (ng ml⁻¹)", titlePad: { top: 0, bottom: 0 } },
});

makePanel("indPlot", {
  padding: { top: 2, right: 2.3, left: 0, bottom: 0 },
  datasets: [
    lineSet(identityLine, "#111", 1.3),
    lineSet(indSmooth, "#a9a9a9", 3.2),
    pointSet(indScatter.concat(fromColumns(indColumns))),
  ],
  x: { min: -314, max: 7256, minor: 1000, labels: concTicks, fmt: plain, size: 46, tickLength: 5, tickPad: 3,
       title: "Individual Predictions (ng ml⁻¹)", titlePad: { top: 0, bottom: -1.5 } },
  y: { min: -339, max: 7545, minor: 1000, labels: concTicks, fmt: plain, size: 79, tickLength: 6, tickPad: 6,
       title: "Observed Concentrations (ng ml⁻¹)", titlePad: { top: 12, bottom: 0 } },
});

makePanel("cwresPredPlot", {
  padding: { top: 25, right: 13, left: 0, bottom: 0 },
  datasets: [
    lineSet(cwresPredSmooth, "#a9a9a9", 4.5),
    lineSet(zeroLinePred, "#111", 1.3),
    lineSet(upperLimitPred, "#a0a0a0", 1.2, [7, 5]),
    lineSet(lowerLimitPred, "#a0a0a0", 1.2, [7, 5]),
    pointSet(cwresPred.concat(fromColumns(cwresPredColumns))),
  ],
  x: { min: -343, max: 7300, minor: 1000, labels: concTicks, fmt: plain, size: 48.3, tickLength: 4, tickPad: -3,
       title: "Population Predictions (ng ml⁻¹)", titlePad: { top: 0, bottom: 6 } },
  y: { min: -6.73, max: 10.75, minor: 1, labels: cwresTicks, fmt: plain, size: 68, tickLength: 4, tickPad: 1,
       title: "Conditional Weighted Residuals", titlePad: { top: 13, bottom: 0 } },
});

makePanel("cwresTimePlot", {
  padding: { top: 25, right: 2.3, left: 0, bottom: 0 },
  datasets: [
    lineSet(cwresTimeSmooth, "#a9a9a9", 4.5),
    lineSet(zeroLineTime, "#111", 1.3),
    lineSet(upperLimitTime, "#a0a0a0", 1.2, [7, 5]),
    lineSet(lowerLimitTime, "#a0a0a0", 1.2, [7, 5]),
    pointSet(cwresTime.concat(fromColumns(cwresTimeColumns))),
  ],
  x: { min: -0.4, max: 9.09, minor: 1.25, labels: timeTicks, fmt: oneDecimal, size: 48.3, tickLength: 5, tickPad: 3,
       title: "Time After Dose (h)", titlePad: { top: 0, bottom: 0.5 } },
  y: { min: -6.54, max: 6.63, minor: 1, labels: cwresTicks, fmt: plain, size: 79, tickLength: 6, tickPad: 3,
       title: "Conditional Weighted Residuals", titlePad: { top: 25, bottom: 0 } },
});
</script>
</body>
</html>
